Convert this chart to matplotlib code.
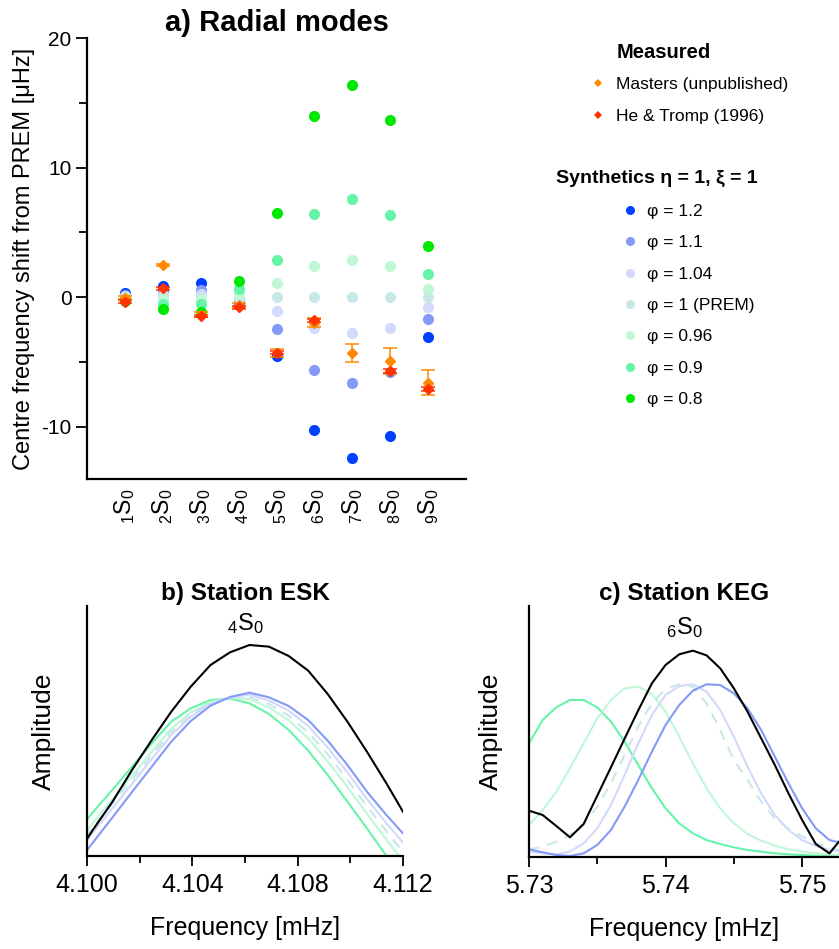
import matplotlib
matplotlib.use('Agg')
import matplotlib.pyplot as plt
from matplotlib.lines import Line2D

plt.rcParams['font.family'] = ['Liberation Sans', 'DejaVu Sans']
plt.rcParams['mathtext.fontset'] = 'custom'
plt.rcParams['mathtext.rm'] = 'Liberation Sans'
plt.rcParams['mathtext.it'] = 'Liberation Sans:italic'
plt.rcParams['mathtext.bf'] = 'Liberation Sans:bold'
plt.rcParams['axes.unicode_minus'] = False

# ---------------- panel a data ----------------
modes = [1, 2, 3, 4, 5, 6, 7, 8, 9]
mode_labels = [r'$\mathregular{{}_1S_0}$', r'$\mathregular{{}_2S_0}$', r'$\mathregular{{}_3S_0}$',
               r'$\mathregular{{}_4S_0}$', r'$\mathregular{{}_5S_0}$', r'$\mathregular{{}_6S_0}$',
               r'$\mathregular{{}_7S_0}$', r'$\mathregular{{}_8S_0}$', r'$\mathregular{{}_9S_0}$']

phi_labels = ['φ = 1.2', 'φ = 1.1', 'φ = 1.04', 'φ = 1 (PREM)', 'φ = 0.96', 'φ = 0.9', 'φ = 0.8']
phi_colors = ['#0040ff', '#8599f7', '#d2d9fc', '#c8e8e8', '#bff7d7', '#66f5a8', '#00e800']

shift_phi_1_2 = [0.28, 0.85, 1.05, -0.5, -4.55, -10.25, -12.45, -10.7, -3.08]
shift_phi_1_1 = [0.14, 0.45, 0.55, -0.25, -2.5, -5.6, -6.65, -5.75, -1.7]
shift_phi_1_04 = [0.05, 0.18, 0.2, -0.1, -1.08, -2.4, -2.8, -2.4, -0.77]
shift_phi_1 = [0, 0, 0, 0, 0, 0, 0, 0, 0]
shift_phi_0_96 = [-0.05, -0.18, -0.22, 0.2, 1.05, 2.4, 2.85, 2.4, 0.64]
shift_phi_0_9 = [-0.14, -0.5, -0.57, 0.6, 2.85, 6.4, 7.55, 6.37, 1.8]
shift_phi_0_8 = [-0.3, -0.95, -1.13, 1.23, 6.48, 14.0, 16.4, 13.65, 3.93]
synthetic_shifts = [shift_phi_1_2, shift_phi_1_1, shift_phi_1_04, shift_phi_1,
                    shift_phi_0_96, shift_phi_0_9, shift_phi_0_8]

masters_modes = [1, 2, 3, 4, 5, 6, 7, 8, 9]
masters_shift = [-0.05, 2.47, -1.35, -0.6, -4.3, -2.0, -4.35, -4.93, -6.6]
masters_err = [0.12, 0.1, 0.2, 0.15, 0.32, 0.35, 0.7, 1.0, 0.97]

ht_modes = [1, 2, 3, 4, 5, 6, 8, 9]
ht_shift = [-0.36, 0.67, -1.45, -0.8, -4.3, -1.8, -5.68, -7.1]
ht_err = [0.1, 0.1, 0.1, 0.1, 0.1, 0.1, 0.15, 0.12]

# ---------------- panel b data (station ESK, 4S0) ----------------
freq_b = [4.09948, 4.10022, 4.10097, 4.10171, 4.10246, 4.10320, 4.10394, 4.10469, 4.10543,
          4.10617, 4.10691, 4.10766, 4.10840, 4.10914, 4.10989, 4.11063, 4.11137, 4.11211]
amp_b_obs = [-12, 78, 163, 258, 348, 433, 508, 573, 611, 633, 628, 600, 556, 486, 403, 313, 218, 118]
amp_b_0_9 = [58, 131, 199, 268, 338, 403, 443, 468, 472, 458, 426, 378, 316, 243, 163, 83, 0, -82]
amp_b_0_96 = [25, 99, 170, 241, 313, 382, 430, 462, 474, 471, 446, 407, 353, 284, 207, 127, 49, -26]
amp_b_1 = [11, 86, 158, 230, 303, 373, 424, 460, 475, 477, 456, 421, 371, 305, 229, 149, 74, 2]
amp_b_1_04 = [-6, 70, 143, 217, 291, 363, 418, 457, 475, 484, 466, 436, 390, 325, 251, 171, 98, 30]
amp_b_1_1 = [-37, 40, 116, 192, 268, 343, 405, 451, 477, 490, 476, 450, 408, 346, 273, 193, 123, 58]

# ---------------- panel c data (station KEG, 6S0) ----------------
freq_c = [5.730, 5.731, 5.732, 5.733, 5.734, 5.735, 5.736, 5.737, 5.738, 5.739, 5.740, 5.741,
          5.742, 5.743, 5.744, 5.745, 5.746, 5.747, 5.748, 5.749, 5.750, 5.751, 5.752, 5.753]
amp_c_obs = [139, 126, 93, 59, 99, 184, 269, 355, 440, 521, 576, 608, 619, 605, 566, 506, 436,
             356, 276, 191, 111, 39, 11, 61]
amp_c_0_9 = [341, 411, 449, 471, 471, 449, 406, 346, 276, 206, 146, 101, 71, 51, 39, 29, 21, 16,
             11, 8, 6, 4, 3, 2]
amp_c_0_96 = [96, 141, 196, 266, 341, 416, 471, 506, 511, 489, 436, 361, 281, 206, 146, 101, 69,
              49, 34, 23, 16, 11, 8, 6]
amp_c_1 = [23, 31, 46, 66, 99, 151, 221, 306, 391, 461, 504, 518, 511, 461, 381, 291, 231, 166,
           116, 85, 62, 42, 28, 18]
amp_c_1_04 = [16, 11, 8, 16, 41, 86, 156, 246, 341, 426, 486, 513, 518, 496, 441, 361, 271, 191,
              126, 81, 51, 33, 21, 16]
amp_c_1_1 = [23, 14, 6, 3, 11, 36, 81, 151, 231, 316, 396, 456, 499, 518, 516, 491, 446, 381, 301,
             221, 146, 86, 51, 41]

masters_color = '#ff8800'
ht_color = '#ff3300'

fig = plt.figure(figsize=(8.39, 9.49), dpi=100)

# ---------------- panel a ----------------
ax = fig.add_axes([87 / 839, 1 - 479 / 949, 379 / 839, 441 / 949])
for shifts, col in zip(synthetic_shifts, phi_colors):
    ax.plot(modes, shifts, 'o', color=col, markersize=8, markeredgewidth=0, zorder=2)
ax.errorbar(masters_modes, masters_shift, yerr=masters_err, fmt='D', color=masters_color,
            markersize=5.5, mec=masters_color, capsize=4.8, elinewidth=1.1, capthick=1.1,
            zorder=3)
ax.errorbar(ht_modes, ht_shift, yerr=ht_err, fmt='D', color=ht_color,
            markersize=5.5, mec=ht_color, capsize=4.8, elinewidth=1.1, capthick=1.1, zorder=4)
ax.set_xlim(0, 10)
ax.set_ylim(-14.05, 20)
ax.set_yticks([-10, 0, 10, 20])
ax.set_yticks([-5, 5, 15], minor=True)
ax.set_xticks(modes)
ax.set_xticklabels(mode_labels, rotation=90, fontsize=16.5)
ax.tick_params(axis='x', length=0, pad=7)
ax.tick_params(axis='y', which='major', length=8, width=1.3, labelsize=15, pad=3)
ax.tick_params(axis='y', which='minor', length=6, width=1.3)
for s in ['top', 'right']:
    ax.spines[s].set_visible(False)
for s in ['left', 'bottom']:
    ax.spines[s].set_linewidth(1.6)
ax.set_ylabel('Centre frequency shift from PREM [μHz]', fontsize=17, labelpad=5)
ax.set_title('a) Radial modes', fontsize=21, fontweight='bold', pad=5)

# legend
fig.text(617 / 839, 1 - 52 / 949, 'Measured', fontsize=14.5, fontweight='bold',
         ha='left', va='center')
meas_handles = [Line2D([], [], marker='D', ls='none', color=masters_color, markersize=4.5,
                       markeredgewidth=0),
                Line2D([], [], marker='D', ls='none', color=ht_color, markersize=4.5,
                       markeredgewidth=0)]
leg1 = fig.legend(meas_handles, ['Masters (unpublished)', 'He & Tromp (1996)'],
                  loc='upper left', bbox_to_anchor=(589 / 839, 1 - 77 / 949), frameon=False,
                  fontsize=12.5, handlelength=1.0, handletextpad=0.55, borderpad=0,
                  borderaxespad=0, labelspacing=0.97)
fig.text(556 / 839, 1 - 178 / 949, 'Synthetics η = 1, ξ = 1', fontsize=14, fontweight='bold',
         ha='left', va='center')
phi_handles = [Line2D([], [], marker='o', ls='none', color=c, markersize=6.5, markeredgewidth=0)
               for c in phi_colors]
leg2 = fig.legend(phi_handles, phi_labels, loc='upper left',
                  bbox_to_anchor=(621 / 839, 1 - 204 / 949), frameon=False,
                  fontsize=12.5, handlelength=1.0, handletextpad=0.5, borderpad=0,
                  borderaxespad=0, labelspacing=0.93)


def style_spectrum_axes(a):
    for s in ['top', 'right']:
        a.spines[s].set_visible(False)
    for s in ['left', 'bottom']:
        a.spines[s].set_linewidth(1.6)
    a.set_yticks([])
    a.tick_params(axis='x', which='major', length=7, width=1.3, labelsize=18, pad=5)
    a.tick_params(axis='x', which='minor', length=5, width=1.3)
    a.set_xlabel('Frequency [mHz]', fontsize=18, labelpad=14)


# ---------------- panel b ----------------
axb = fig.add_axes([87 / 839, 1 - 856 / 949, 316 / 839, 250 / 949])
axb.plot(freq_b, amp_b_obs, color='black', lw=1.5, zorder=5)
axb.plot(freq_b, amp_b_0_9, color=phi_colors[5], lw=1.5)
axb.plot(freq_b, amp_b_0_96, color=phi_colors[4], lw=1.5)
axb.plot(freq_b, amp_b_1, color=phi_colors[3], lw=1.5, ls=(0, (5, 4)))
axb.plot(freq_b, amp_b_1_04, color=phi_colors[2], lw=1.5)
axb.plot(freq_b, amp_b_1_1, color=phi_colors[1], lw=1.5)
axb.set_xlim(4.100, 4.112)
axb.set_ylim(0, 750)
axb.set_xticks([4.100, 4.104, 4.108, 4.112])
axb.set_xticklabels(['4.100', '4.104', '4.108', '4.112'])
axb.set_xticks([4.102, 4.106, 4.110], minor=True)
style_spectrum_axes(axb)
axb.set_ylabel('Amplitude', fontsize=19, labelpad=22)
axb.set_title('b) Station ESK', fontsize=17.5, fontweight='bold', pad=4)
axb.text(0.5, 0.928, r'$\mathregular{{}_4S_0}$', transform=axb.transAxes, fontsize=17,
         ha='center', va='center')

# ---------------- panel c ----------------
axc = fig.add_axes([529 / 839, 1 - 857 / 949, 310 / 839, 251 / 949])
axc.plot(freq_c, amp_c_obs, color='black', lw=1.5, zorder=5)
axc.plot(freq_c, amp_c_0_9, color=phi_colors[5], lw=1.5)
axc.plot(freq_c, amp_c_0_96, color=phi_colors[4], lw=1.5)
axc.plot(freq_c, amp_c_1, color=phi_colors[3], lw=1.5, ls=(0, (5, 4)))
axc.plot(freq_c, amp_c_1_04, color=phi_colors[2], lw=1.5)
axc.plot(freq_c, amp_c_1_1, color=phi_colors[1], lw=1.5)
axc.set_xlim(5.730, 5.7527)
axc.set_ylim(0, 753)
axc.set_xticks([5.73, 5.74, 5.75])
axc.set_xticklabels(['5.73', '5.74', '5.75'])
axc.set_xticks([5.735, 5.745], minor=True)
style_spectrum_axes(axc)
axc.set_ylabel('Amplitude', fontsize=19, labelpad=19)
axc.set_title('c) Station KEG', fontsize=17.5, fontweight='bold', pad=4)
axc.text(0.5, 0.916, r'$\mathregular{{}_6S_0}$', transform=axc.transAxes, fontsize=17,
         ha='center', va='center')

fig.savefig('out.png', dpi=100)
